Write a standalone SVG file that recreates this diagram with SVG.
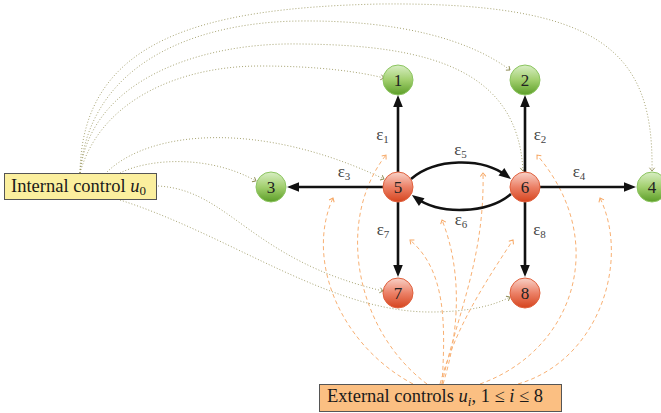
<svg xmlns="http://www.w3.org/2000/svg" width="661" height="413" viewBox="0 0 661 413">
<defs>
  <linearGradient id="gGreen" x1="0" y1="0" x2="0" y2="1">
    <stop offset="0" stop-color="#d8eec4"/>
    <stop offset="0.5" stop-color="#a2cf6e"/>
    <stop offset="1" stop-color="#5c9e28"/>
  </linearGradient>
  <linearGradient id="gRed" x1="0" y1="0" x2="0" y2="1">
    <stop offset="0" stop-color="#f8d2c8"/>
    <stop offset="0.5" stop-color="#ec8167"/>
    <stop offset="1" stop-color="#d5441e"/>
  </linearGradient>
  <marker id="mBlack" viewBox="-8 -6 14 12" refX="0" refY="0" markerWidth="14" markerHeight="12" markerUnits="userSpaceOnUse" orient="auto">
    <path d="M5,0 L-7,-4.8 L-7,4.8 Z" fill="#111"/>
  </marker>
  <marker id="mOlive" viewBox="-5 -4 6 8" refX="0" refY="0" markerWidth="6" markerHeight="8" markerUnits="userSpaceOnUse" orient="auto">
    <path d="M-3.2,-2.6 L0,0 L-3.2,2.6" fill="none" stroke="#8f8c55" stroke-width="0.9"/>
  </marker>
  <marker id="mOrange" viewBox="-5 -4 6 8" refX="0" refY="0" markerWidth="6" markerHeight="8" markerUnits="userSpaceOnUse" orient="auto">
    <path d="M-3.4,-2.8 L0,0 L-3.4,2.8" fill="none" stroke="#f6a764" stroke-width="1"/>
  </marker>
</defs>
<style>
  .edge{fill:none;stroke:#111;stroke-width:2.6;marker-end:url(#mBlack)}
  .int{fill:none;stroke:#9d9a63;stroke-width:0.9;stroke-dasharray:1 2;marker-end:url(#mOlive)}
  .ext{fill:none;stroke:#f8b073;stroke-width:1;stroke-dasharray:4 3;marker-end:url(#mOrange)}
  .gn circle{fill:url(#gGreen);stroke:#8cc560;stroke-width:1}
  .rn circle{fill:url(#gRed);stroke:#e0603c;stroke-width:1}
  .num{font-family:"Liberation Serif","DejaVu Serif",serif;font-size:17px;fill:#222;text-anchor:middle}
  .lbl{font-family:"Liberation Serif","DejaVu Serif",serif;font-size:17px;fill:#444;text-anchor:middle}
  .box{font-family:"Liberation Serif","DejaVu Serif",serif;font-size:18.5px;fill:#1a1a1a}
</style>

<g id="connectors">
  <!-- internal control (dotted) -->
  <path class="int" d="M80,173 C82,40 200,8 380,4 C600,2 654,50 652,171"/>
  <path class="int" d="M80,173 C90,60 200,22 300,21 C400,20 470,40 510,70"/>
  <path class="int" d="M80,173 C90,80 200,42 300,44 C430,45 518,70 523,171"/>
  <path class="int" d="M80,173 C100,100 180,66 260,66 C320,66 360,72 384,78"/>
  <path class="int" d="M107,172 C150,130 260,120 384,179"/>
  <path class="int" d="M120,173 C150,158 210,155 256,181"/>
  <path class="int" d="M158,186 C230,190 250,260 383,291"/>
  <path class="int" d="M120,200 C230,235 330,312 430,312 C470,312 495,305 510,297"/>

  <!-- external controls (dashed) -->
  <path class="ext" d="M427,384 C355,330 335,220 386,155"/>
  <path class="ext" d="M480,384 C575,350 610,240 537,155"/>
  <path class="ext" d="M413,384 C340,345 305,260 333,198"/>
  <path class="ext" d="M518,384 C600,360 630,260 600,198"/>
  <path class="ext" d="M442,384 C455,320 485,260 483,173"/>
  <path class="ext" d="M443,384 C460,330 462,270 442,220"/>
  <path class="ext" d="M442,384 C446,320 445,270 410,240"/>
  <path class="ext" d="M440,384 C455,330 480,290 513,240"/>

  <!-- network edges -->
  <path class="edge" d="M398,172 L398,100"/>
  <path class="edge" d="M525,172 L525,100"/>
  <path class="edge" d="M383,187 L292,187"/>
  <path class="edge" d="M540,187 L631,187"/>
  <path class="edge" d="M398,202 L398,272"/>
  <path class="edge" d="M525,202 L525,272"/>
  <path class="edge" d="M411,179 C435,158 482,157 507,176"/>
  <path class="edge" d="M511,194 C487,214 440,215 416,198"/>

  <!-- edge labels -->
  <text class="lbl" x="382.5" y="140">ε<tspan font-size="11" dy="2.5">1</tspan></text>
  <text class="lbl" x="540" y="140">ε<tspan font-size="11" dy="2.5">2</tspan></text>
  <text class="lbl" x="344" y="177">ε<tspan font-size="11" dy="2.5">3</tspan></text>
  <text class="lbl" x="579" y="177">ε<tspan font-size="11" dy="2.5">4</tspan></text>
  <text class="lbl" x="460.5" y="155">ε<tspan font-size="11" dy="2.5">5</tspan></text>
  <text class="lbl" x="461" y="225">ε<tspan font-size="11" dy="2.5">6</tspan></text>
  <text class="lbl" x="383" y="235">ε<tspan font-size="11" dy="2.5">7</tspan></text>
  <text class="lbl" x="539.5" y="235">ε<tspan font-size="11" dy="2.5">8</tspan></text>
</g>

<g id="node-1" class="gn"><circle cx="398" cy="80" r="15"/><text class="num" x="398" y="86">1</text></g>
<g id="node-2" class="gn"><circle cx="525" cy="80" r="15"/><text class="num" x="525" y="86">2</text></g>
<g id="node-3" class="gn"><circle cx="271" cy="187" r="15"/><text class="num" x="271" y="193">3</text></g>
<g id="node-4" class="gn"><circle cx="652" cy="187" r="15"/><text class="num" x="652" y="193">4</text></g>
<g id="node-5" class="rn"><circle cx="398" cy="187" r="15"/><text class="num" x="398" y="193">5</text></g>
<g id="node-6" class="rn"><circle cx="525" cy="187" r="15"/><text class="num" x="525" y="193">6</text></g>
<g id="node-7" class="rn"><circle cx="398" cy="293" r="15"/><text class="num" x="398" y="299">7</text></g>
<g id="node-8" class="rn"><circle cx="525" cy="293" r="15"/><text class="num" x="525" y="299">8</text></g>

<g id="node-internal">
  <rect x="4.5" y="173.5" width="152" height="26" fill="#fbef9e" stroke="#555" stroke-width="1"/>
  <text class="box" x="11" y="191.7">Internal control <tspan font-style="italic">u</tspan><tspan font-size="13" dy="3.3">0</tspan></text>
</g>

<g id="node-external">
  <rect x="319.5" y="384.5" width="242" height="27" fill="#fbbf82" stroke="#555" stroke-width="1"/>
  <text class="box" x="327" y="402.3">External controls <tspan font-style="italic">u</tspan><tspan font-size="13" font-style="italic" dy="3.3">i</tspan><tspan dy="-3.3">, 1 ≤ </tspan><tspan font-style="italic">i</tspan> ≤ 8</text>
</g>
</svg>
